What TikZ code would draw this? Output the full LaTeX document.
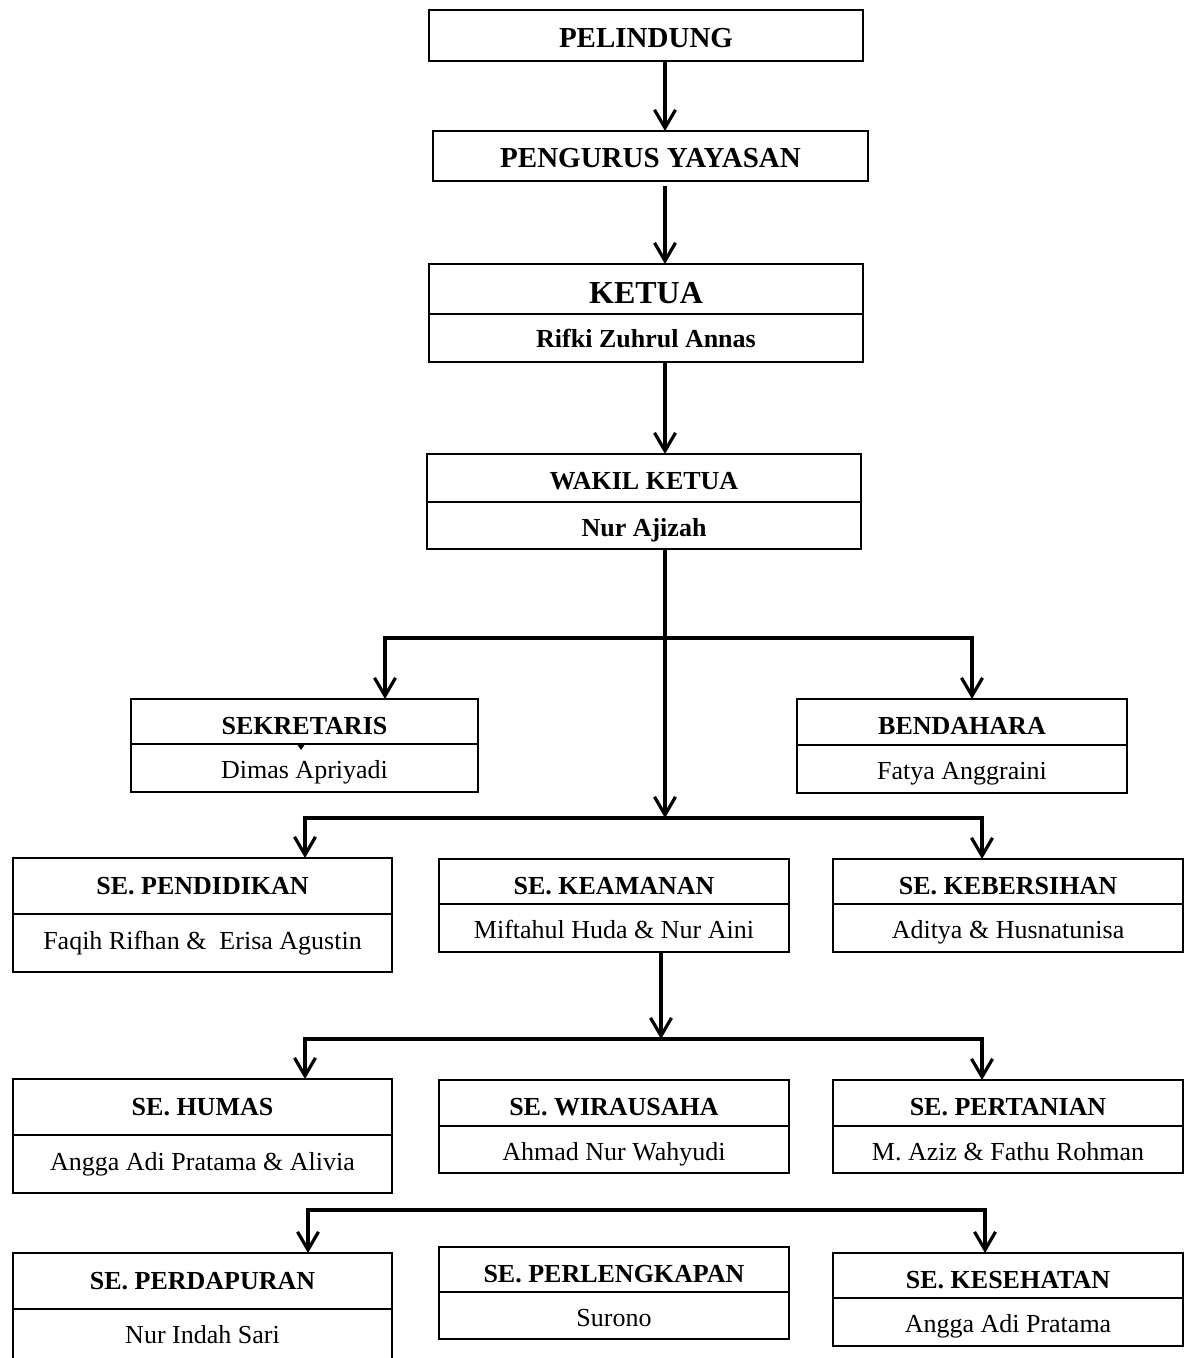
\documentclass[tikz,border=0pt]{standalone}
\usepackage{fontspec}
\setmainfont{Liberation Serif}
\usetikzlibrary{arrows.meta}
% style, name, x1, y1, x2, y2, baseline offset from top (px), text
\newcommand\cellnode[8]{\node[#1, anchor=north west, inner ysep=0pt,
  minimum width={(#5-#3)*0.5pt}, minimum height={(#6-#4)*0.5pt},
  text height={#7*0.5pt}, text depth={(#6-#4-#7)*0.5pt}] (#2) at (#3,#4) {#8};}
\begin{document}
\begin{tikzpicture}[x=0.5pt,y=-0.5pt,
  cell/.style={draw, line width=0.75pt, inner sep=0pt, outer sep=0pt},
  hd/.style={cell, font=\bfseries\fontsize{13}{15}\selectfont},
  hdbig/.style={cell, font=\bfseries\fontsize{14.5}{17}\selectfont},
  hdketua/.style={cell, font=\bfseries\fontsize{16}{18}\selectfont},
  nm/.style={cell, font=\fontsize{13}{15}\selectfont},
  nmb/.style={cell, font=\bfseries\fontsize{13}{15}\selectfont},
  arr/.style={line width=1.6pt, line join=miter, -{Straight Barb[length=9pt,width=10.5pt]}},
  arrtwo/.style={line width=1.6pt, line join=miter, {Straight Barb[length=9pt,width=10.5pt]}-{Straight Barb[length=9pt,width=10.5pt]}}]
\useasboundingbox (0,0) rectangle (1184,1358);
\clip (0,0) rectangle (1184,1358);
% top chain
\cellnode{hdbig}{pel}{429}{10}{863}{61}{38}{PELINDUNG}
\cellnode{hdbig}{peng}{433}{131}{868}{181}{37}{PENGURUS YAYASAN}
\cellnode{hdketua}{ket}{429}{264}{863}{314}{40}{KETUA}
\cellnode{nmb}{ketn}{429}{314}{863}{362}{34}{Rifki Zuhrul Annas}
\cellnode{hd}{wak}{427}{454}{861}{502}{35}{WAKIL KETUA}
\cellnode{nmb}{wakn}{427}{502}{861}{549}{34}{Nur Ajizah}
% level 1
\cellnode{hd}{sek}{131}{699}{478}{744}{35}{SEKRETARIS}
\cellnode{nm}{sekn}{131}{744}{478}{792}{34}{Dimas Apriyadi}
\fill (297.5,745) -- (304.5,745) -- (301,750) -- cycle;
\cellnode{hd}{ben}{797}{699}{1127}{745}{35}{BENDAHARA}
\cellnode{nm}{benn}{797}{745}{1127}{793}{34}{Fatya Anggraini}
% level 2
\cellnode{hd}{pend}{13}{858}{392}{914}{36}{SE. PENDIDIKAN}
\cellnode{nm}{pendn}{13}{914}{392}{972}{35}{Faqih Rifhan \&~ Erisa Agustin}
\cellnode{hd}{keam}{439}{859}{789}{904}{35}{SE. KEAMANAN}
\cellnode{nm}{keamn}{439}{904}{789}{952}{34}{Miftahul Huda \& Nur Aini}
\cellnode{hd}{kebe}{833}{859}{1183}{904}{35}{SE. KEBERSIHAN}
\cellnode{nm}{keben}{833}{904}{1183}{952}{34}{Aditya \& Husnatunisa}
% level 3
\cellnode{hd}{hum}{13}{1079}{392}{1135}{36}{SE. HUMAS}
\cellnode{nm}{humn}{13}{1135}{392}{1193}{35}{Angga Adi Pratama \& Alivia}
\cellnode{hd}{wir}{439}{1080}{789}{1126}{35}{SE. WIRAUSAHA}
\cellnode{nm}{wirn}{439}{1126}{789}{1173}{34}{Ahmad Nur Wahyudi}
\cellnode{hd}{pert}{833}{1080}{1183}{1126}{35}{SE. PERTANIAN}
\cellnode{nm}{pertn}{833}{1126}{1183}{1173}{34}{M. Aziz \& Fathu Rohman}
% level 4
\cellnode{hd}{perd}{13}{1253}{392}{1309}{36}{SE. PERDAPURAN}
\cellnode{nm}{perdn}{13}{1309}{392}{1367}{34}{Nur Indah Sari}
\cellnode{hd}{perl}{439}{1247}{789}{1292}{35}{SE. PERLENGKAPAN}
\cellnode{nm}{perln}{439}{1292}{789}{1339}{34}{Surono}
\cellnode{hd}{kes}{833}{1253}{1183}{1298}{35}{SE. KESEHATAN}
\cellnode{nm}{kesn}{833}{1298}{1183}{1346}{34}{Angga Adi Pratama}
% connectors
\coordinate (cx) at (665,0);
\coordinate (kx) at (661,0);
\draw[arr] (cx |- pel.south) -- (cx |- peng.north);
\draw[arr, shorten <=2.5pt] (cx |- peng.south) -- (cx |- ket.north);
\draw[arr] (cx |- ketn.south) -- (cx |- wak.north);
\coordinate (b1L) at (385,638);
\coordinate (b1R) at (972,638);
\draw[arrtwo] (b1L |- sek.north) -- (b1L) -- (b1R) -- (b1R |- ben.north);
\coordinate (b2L) at (305,818);
\coordinate (b2R) at (982,818);
\draw[arr] (cx |- wakn.south) -- (cx |- b2L);
\draw[arrtwo] (b2L |- pend.north) -- (b2L) -- (b2R) -- (b2R |- kebe.north);
\coordinate (b3L) at (305,1039);
\coordinate (b3R) at (982,1039);
\draw[arr] (kx |- keamn.south) -- (kx |- b3L);
\draw[arrtwo] (b3L |- hum.north) -- (b3L) -- (b3R) -- (b3R |- pert.north);
\coordinate (b4L) at (308,1210);
\coordinate (b4R) at (985,1210);
\draw[arrtwo] (b4L |- perd.north) -- (b4L) -- (b4R) -- (b4R |- kes.north);
\end{tikzpicture}
\end{document}
